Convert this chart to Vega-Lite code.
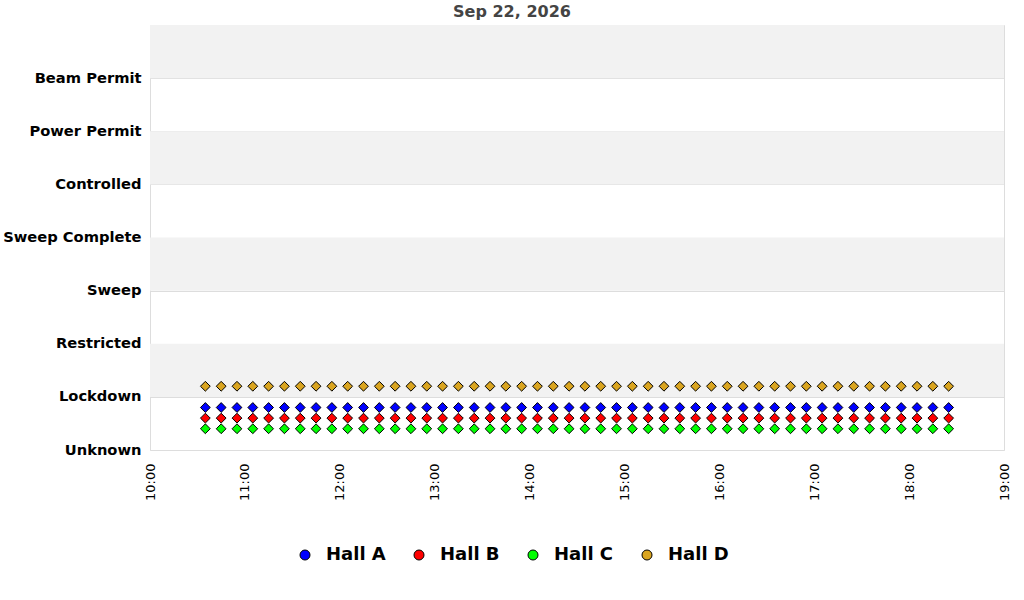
{
  "$schema": "https://vega.github.io/schema/vega-lite/v6.json",
  "width": 854,
  "height": 425,
  "autosize": "none",
  "padding": {"left": 150, "top": 25, "right": 20, "bottom": 150},
  "background": "white",
  "config": {
    "font": "DejaVu Sans",
    "view": {"stroke": "#dddddd"}
  },
  "title": {
    "text": "Sep 22, 2026",
    "font": "DejaVu Sans",
    "fontSize": 16,
    "fontWeight": "bold",
    "color": "#444444",
    "anchor": "middle",
    "dx": -65,
    "offset": 5
  },
  "layer": [
    {
      "data": {"values": [
        {"lo": 1, "hi": 2}, {"lo": 3, "hi": 4}, {"lo": 5, "hi": 6}, {"lo": 7, "hi": 8}
      ]},
      "mark": {"type": "rect", "fill": "#f2f2f2"},
      "encoding": {
        "y": {"field": "lo", "type": "quantitative", "scale": {"domain": [0, 8]}},
        "y2": {"field": "hi"}
      }
    },
    {
      "data": {
        "values": [
          {"t": "2026-09-22T10:35", "hall": "Hall A", "v": 0.8},
          {"t": "2026-09-22T10:45", "hall": "Hall A", "v": 0.8},
          {"t": "2026-09-22T10:55", "hall": "Hall A", "v": 0.8},
          {"t": "2026-09-22T11:05", "hall": "Hall A", "v": 0.8},
          {"t": "2026-09-22T11:15", "hall": "Hall A", "v": 0.8},
          {"t": "2026-09-22T11:25", "hall": "Hall A", "v": 0.8},
          {"t": "2026-09-22T11:35", "hall": "Hall A", "v": 0.8},
          {"t": "2026-09-22T11:45", "hall": "Hall A", "v": 0.8},
          {"t": "2026-09-22T11:55", "hall": "Hall A", "v": 0.8},
          {"t": "2026-09-22T12:05", "hall": "Hall A", "v": 0.8},
          {"t": "2026-09-22T12:15", "hall": "Hall A", "v": 0.8},
          {"t": "2026-09-22T12:25", "hall": "Hall A", "v": 0.8},
          {"t": "2026-09-22T12:35", "hall": "Hall A", "v": 0.8},
          {"t": "2026-09-22T12:45", "hall": "Hall A", "v": 0.8},
          {"t": "2026-09-22T12:55", "hall": "Hall A", "v": 0.8},
          {"t": "2026-09-22T13:05", "hall": "Hall A", "v": 0.8},
          {"t": "2026-09-22T13:15", "hall": "Hall A", "v": 0.8},
          {"t": "2026-09-22T13:25", "hall": "Hall A", "v": 0.8},
          {"t": "2026-09-22T13:35", "hall": "Hall A", "v": 0.8},
          {"t": "2026-09-22T13:45", "hall": "Hall A", "v": 0.8},
          {"t": "2026-09-22T13:55", "hall": "Hall A", "v": 0.8},
          {"t": "2026-09-22T14:05", "hall": "Hall A", "v": 0.8},
          {"t": "2026-09-22T14:15", "hall": "Hall A", "v": 0.8},
          {"t": "2026-09-22T14:25", "hall": "Hall A", "v": 0.8},
          {"t": "2026-09-22T14:35", "hall": "Hall A", "v": 0.8},
          {"t": "2026-09-22T14:45", "hall": "Hall A", "v": 0.8},
          {"t": "2026-09-22T14:55", "hall": "Hall A", "v": 0.8},
          {"t": "2026-09-22T15:05", "hall": "Hall A", "v": 0.8},
          {"t": "2026-09-22T15:15", "hall": "Hall A", "v": 0.8},
          {"t": "2026-09-22T15:25", "hall": "Hall A", "v": 0.8},
          {"t": "2026-09-22T15:35", "hall": "Hall A", "v": 0.8},
          {"t": "2026-09-22T15:45", "hall": "Hall A", "v": 0.8},
          {"t": "2026-09-22T15:55", "hall": "Hall A", "v": 0.8},
          {"t": "2026-09-22T16:05", "hall": "Hall A", "v": 0.8},
          {"t": "2026-09-22T16:15", "hall": "Hall A", "v": 0.8},
          {"t": "2026-09-22T16:25", "hall": "Hall A", "v": 0.8},
          {"t": "2026-09-22T16:35", "hall": "Hall A", "v": 0.8},
          {"t": "2026-09-22T16:45", "hall": "Hall A", "v": 0.8},
          {"t": "2026-09-22T16:55", "hall": "Hall A", "v": 0.8},
          {"t": "2026-09-22T17:05", "hall": "Hall A", "v": 0.8},
          {"t": "2026-09-22T17:15", "hall": "Hall A", "v": 0.8},
          {"t": "2026-09-22T17:25", "hall": "Hall A", "v": 0.8},
          {"t": "2026-09-22T17:35", "hall": "Hall A", "v": 0.8},
          {"t": "2026-09-22T17:45", "hall": "Hall A", "v": 0.8},
          {"t": "2026-09-22T17:55", "hall": "Hall A", "v": 0.8},
          {"t": "2026-09-22T18:05", "hall": "Hall A", "v": 0.8},
          {"t": "2026-09-22T18:15", "hall": "Hall A", "v": 0.8},
          {"t": "2026-09-22T18:25", "hall": "Hall A", "v": 0.8},
          {"t": "2026-09-22T10:35", "hall": "Hall B", "v": 0.6},
          {"t": "2026-09-22T10:45", "hall": "Hall B", "v": 0.6},
          {"t": "2026-09-22T10:55", "hall": "Hall B", "v": 0.6},
          {"t": "2026-09-22T11:05", "hall": "Hall B", "v": 0.6},
          {"t": "2026-09-22T11:15", "hall": "Hall B", "v": 0.6},
          {"t": "2026-09-22T11:25", "hall": "Hall B", "v": 0.6},
          {"t": "2026-09-22T11:35", "hall": "Hall B", "v": 0.6},
          {"t": "2026-09-22T11:45", "hall": "Hall B", "v": 0.6},
          {"t": "2026-09-22T11:55", "hall": "Hall B", "v": 0.6},
          {"t": "2026-09-22T12:05", "hall": "Hall B", "v": 0.6},
          {"t": "2026-09-22T12:15", "hall": "Hall B", "v": 0.6},
          {"t": "2026-09-22T12:25", "hall": "Hall B", "v": 0.6},
          {"t": "2026-09-22T12:35", "hall": "Hall B", "v": 0.6},
          {"t": "2026-09-22T12:45", "hall": "Hall B", "v": 0.6},
          {"t": "2026-09-22T12:55", "hall": "Hall B", "v": 0.6},
          {"t": "2026-09-22T13:05", "hall": "Hall B", "v": 0.6},
          {"t": "2026-09-22T13:15", "hall": "Hall B", "v": 0.6},
          {"t": "2026-09-22T13:25", "hall": "Hall B", "v": 0.6},
          {"t": "2026-09-22T13:35", "hall": "Hall B", "v": 0.6},
          {"t": "2026-09-22T13:45", "hall": "Hall B", "v": 0.6},
          {"t": "2026-09-22T13:55", "hall": "Hall B", "v": 0.6},
          {"t": "2026-09-22T14:05", "hall": "Hall B", "v": 0.6},
          {"t": "2026-09-22T14:15", "hall": "Hall B", "v": 0.6},
          {"t": "2026-09-22T14:25", "hall": "Hall B", "v": 0.6},
          {"t": "2026-09-22T14:35", "hall": "Hall B", "v": 0.6},
          {"t": "2026-09-22T14:45", "hall": "Hall B", "v": 0.6},
          {"t": "2026-09-22T14:55", "hall": "Hall B", "v": 0.6},
          {"t": "2026-09-22T15:05", "hall": "Hall B", "v": 0.6},
          {"t": "2026-09-22T15:15", "hall": "Hall B", "v": 0.6},
          {"t": "2026-09-22T15:25", "hall": "Hall B", "v": 0.6},
          {"t": "2026-09-22T15:35", "hall": "Hall B", "v": 0.6},
          {"t": "2026-09-22T15:45", "hall": "Hall B", "v": 0.6},
          {"t": "2026-09-22T15:55", "hall": "Hall B", "v": 0.6},
          {"t": "2026-09-22T16:05", "hall": "Hall B", "v": 0.6},
          {"t": "2026-09-22T16:15", "hall": "Hall B", "v": 0.6},
          {"t": "2026-09-22T16:25", "hall": "Hall B", "v": 0.6},
          {"t": "2026-09-22T16:35", "hall": "Hall B", "v": 0.6},
          {"t": "2026-09-22T16:45", "hall": "Hall B", "v": 0.6},
          {"t": "2026-09-22T16:55", "hall": "Hall B", "v": 0.6},
          {"t": "2026-09-22T17:05", "hall": "Hall B", "v": 0.6},
          {"t": "2026-09-22T17:15", "hall": "Hall B", "v": 0.6},
          {"t": "2026-09-22T17:25", "hall": "Hall B", "v": 0.6},
          {"t": "2026-09-22T17:35", "hall": "Hall B", "v": 0.6},
          {"t": "2026-09-22T17:45", "hall": "Hall B", "v": 0.6},
          {"t": "2026-09-22T17:55", "hall": "Hall B", "v": 0.6},
          {"t": "2026-09-22T18:05", "hall": "Hall B", "v": 0.6},
          {"t": "2026-09-22T18:15", "hall": "Hall B", "v": 0.6},
          {"t": "2026-09-22T18:25", "hall": "Hall B", "v": 0.6},
          {"t": "2026-09-22T10:35", "hall": "Hall C", "v": 0.4},
          {"t": "2026-09-22T10:45", "hall": "Hall C", "v": 0.4},
          {"t": "2026-09-22T10:55", "hall": "Hall C", "v": 0.4},
          {"t": "2026-09-22T11:05", "hall": "Hall C", "v": 0.4},
          {"t": "2026-09-22T11:15", "hall": "Hall C", "v": 0.4},
          {"t": "2026-09-22T11:25", "hall": "Hall C", "v": 0.4},
          {"t": "2026-09-22T11:35", "hall": "Hall C", "v": 0.4},
          {"t": "2026-09-22T11:45", "hall": "Hall C", "v": 0.4},
          {"t": "2026-09-22T11:55", "hall": "Hall C", "v": 0.4},
          {"t": "2026-09-22T12:05", "hall": "Hall C", "v": 0.4},
          {"t": "2026-09-22T12:15", "hall": "Hall C", "v": 0.4},
          {"t": "2026-09-22T12:25", "hall": "Hall C", "v": 0.4},
          {"t": "2026-09-22T12:35", "hall": "Hall C", "v": 0.4},
          {"t": "2026-09-22T12:45", "hall": "Hall C", "v": 0.4},
          {"t": "2026-09-22T12:55", "hall": "Hall C", "v": 0.4},
          {"t": "2026-09-22T13:05", "hall": "Hall C", "v": 0.4},
          {"t": "2026-09-22T13:15", "hall": "Hall C", "v": 0.4},
          {"t": "2026-09-22T13:25", "hall": "Hall C", "v": 0.4},
          {"t": "2026-09-22T13:35", "hall": "Hall C", "v": 0.4},
          {"t": "2026-09-22T13:45", "hall": "Hall C", "v": 0.4},
          {"t": "2026-09-22T13:55", "hall": "Hall C", "v": 0.4},
          {"t": "2026-09-22T14:05", "hall": "Hall C", "v": 0.4},
          {"t": "2026-09-22T14:15", "hall": "Hall C", "v": 0.4},
          {"t": "2026-09-22T14:25", "hall": "Hall C", "v": 0.4},
          {"t": "2026-09-22T14:35", "hall": "Hall C", "v": 0.4},
          {"t": "2026-09-22T14:45", "hall": "Hall C", "v": 0.4},
          {"t": "2026-09-22T14:55", "hall": "Hall C", "v": 0.4},
          {"t": "2026-09-22T15:05", "hall": "Hall C", "v": 0.4},
          {"t": "2026-09-22T15:15", "hall": "Hall C", "v": 0.4},
          {"t": "2026-09-22T15:25", "hall": "Hall C", "v": 0.4},
          {"t": "2026-09-22T15:35", "hall": "Hall C", "v": 0.4},
          {"t": "2026-09-22T15:45", "hall": "Hall C", "v": 0.4},
          {"t": "2026-09-22T15:55", "hall": "Hall C", "v": 0.4},
          {"t": "2026-09-22T16:05", "hall": "Hall C", "v": 0.4},
          {"t": "2026-09-22T16:15", "hall": "Hall C", "v": 0.4},
          {"t": "2026-09-22T16:25", "hall": "Hall C", "v": 0.4},
          {"t": "2026-09-22T16:35", "hall": "Hall C", "v": 0.4},
          {"t": "2026-09-22T16:45", "hall": "Hall C", "v": 0.4},
          {"t": "2026-09-22T16:55", "hall": "Hall C", "v": 0.4},
          {"t": "2026-09-22T17:05", "hall": "Hall C", "v": 0.4},
          {"t": "2026-09-22T17:15", "hall": "Hall C", "v": 0.4},
          {"t": "2026-09-22T17:25", "hall": "Hall C", "v": 0.4},
          {"t": "2026-09-22T17:35", "hall": "Hall C", "v": 0.4},
          {"t": "2026-09-22T17:45", "hall": "Hall C", "v": 0.4},
          {"t": "2026-09-22T17:55", "hall": "Hall C", "v": 0.4},
          {"t": "2026-09-22T18:05", "hall": "Hall C", "v": 0.4},
          {"t": "2026-09-22T18:15", "hall": "Hall C", "v": 0.4},
          {"t": "2026-09-22T18:25", "hall": "Hall C", "v": 0.4},
          {"t": "2026-09-22T10:35", "hall": "Hall D", "v": 1.2},
          {"t": "2026-09-22T10:45", "hall": "Hall D", "v": 1.2},
          {"t": "2026-09-22T10:55", "hall": "Hall D", "v": 1.2},
          {"t": "2026-09-22T11:05", "hall": "Hall D", "v": 1.2},
          {"t": "2026-09-22T11:15", "hall": "Hall D", "v": 1.2},
          {"t": "2026-09-22T11:25", "hall": "Hall D", "v": 1.2},
          {"t": "2026-09-22T11:35", "hall": "Hall D", "v": 1.2},
          {"t": "2026-09-22T11:45", "hall": "Hall D", "v": 1.2},
          {"t": "2026-09-22T11:55", "hall": "Hall D", "v": 1.2},
          {"t": "2026-09-22T12:05", "hall": "Hall D", "v": 1.2},
          {"t": "2026-09-22T12:15", "hall": "Hall D", "v": 1.2},
          {"t": "2026-09-22T12:25", "hall": "Hall D", "v": 1.2},
          {"t": "2026-09-22T12:35", "hall": "Hall D", "v": 1.2},
          {"t": "2026-09-22T12:45", "hall": "Hall D", "v": 1.2},
          {"t": "2026-09-22T12:55", "hall": "Hall D", "v": 1.2},
          {"t": "2026-09-22T13:05", "hall": "Hall D", "v": 1.2},
          {"t": "2026-09-22T13:15", "hall": "Hall D", "v": 1.2},
          {"t": "2026-09-22T13:25", "hall": "Hall D", "v": 1.2},
          {"t": "2026-09-22T13:35", "hall": "Hall D", "v": 1.2},
          {"t": "2026-09-22T13:45", "hall": "Hall D", "v": 1.2},
          {"t": "2026-09-22T13:55", "hall": "Hall D", "v": 1.2},
          {"t": "2026-09-22T14:05", "hall": "Hall D", "v": 1.2},
          {"t": "2026-09-22T14:15", "hall": "Hall D", "v": 1.2},
          {"t": "2026-09-22T14:25", "hall": "Hall D", "v": 1.2},
          {"t": "2026-09-22T14:35", "hall": "Hall D", "v": 1.2},
          {"t": "2026-09-22T14:45", "hall": "Hall D", "v": 1.2},
          {"t": "2026-09-22T14:55", "hall": "Hall D", "v": 1.2},
          {"t": "2026-09-22T15:05", "hall": "Hall D", "v": 1.2},
          {"t": "2026-09-22T15:15", "hall": "Hall D", "v": 1.2},
          {"t": "2026-09-22T15:25", "hall": "Hall D", "v": 1.2},
          {"t": "2026-09-22T15:35", "hall": "Hall D", "v": 1.2},
          {"t": "2026-09-22T15:45", "hall": "Hall D", "v": 1.2},
          {"t": "2026-09-22T15:55", "hall": "Hall D", "v": 1.2},
          {"t": "2026-09-22T16:05", "hall": "Hall D", "v": 1.2},
          {"t": "2026-09-22T16:15", "hall": "Hall D", "v": 1.2},
          {"t": "2026-09-22T16:25", "hall": "Hall D", "v": 1.2},
          {"t": "2026-09-22T16:35", "hall": "Hall D", "v": 1.2},
          {"t": "2026-09-22T16:45", "hall": "Hall D", "v": 1.2},
          {"t": "2026-09-22T16:55", "hall": "Hall D", "v": 1.2},
          {"t": "2026-09-22T17:05", "hall": "Hall D", "v": 1.2},
          {"t": "2026-09-22T17:15", "hall": "Hall D", "v": 1.2},
          {"t": "2026-09-22T17:25", "hall": "Hall D", "v": 1.2},
          {"t": "2026-09-22T17:35", "hall": "Hall D", "v": 1.2},
          {"t": "2026-09-22T17:45", "hall": "Hall D", "v": 1.2},
          {"t": "2026-09-22T17:55", "hall": "Hall D", "v": 1.2},
          {"t": "2026-09-22T18:05", "hall": "Hall D", "v": 1.2},
          {"t": "2026-09-22T18:15", "hall": "Hall D", "v": 1.2},
          {"t": "2026-09-22T18:25", "hall": "Hall D", "v": 1.2}
        ],
        "format": {"parse": {"t": "date"}}
      },
      "mark": {"type": "point", "shape": "diamond", "filled": true, "size": 96, "stroke": "black", "strokeWidth": 1, "strokeJoin": "round", "opacity": 1},
      "encoding": {
        "x": {
          "field": "t",
          "type": "temporal",
          "scale": {"domain": [
            {"year": 2026, "month": 9, "date": 22, "hours": 10},
            {"year": 2026, "month": 9, "date": 22, "hours": 19}
          ]},
          "axis": {
            "title": null,
            "format": "%H:%M",
            "tickCount": "hour",
            "labelAngle": -90,
            "labelAlign": "right",
            "labelBaseline": "middle",
            "labelFont": "DejaVu Sans",
            "labelFontSize": 13,
            "labelColor": "black",
            "labelPadding": 13,
            "ticks": false,
            "domain": false,
            "grid": false,
            "labelFlush": false,
            "labelOverlap": false
          }
        },
        "y": {
          "field": "v",
          "type": "quantitative",
          "scale": {"domain": [0, 8], "nice": false},
          "axis": {
            "title": null,
            "values": [0, 1, 2, 3, 4, 5, 6, 7],
            "labelExpr": "['Unknown','Lockdown','Restricted','Sweep','Sweep Complete','Controlled','Power Permit','Beam Permit'][datum.value]",
            "labelFont": "DejaVu Sans",
            "labelFontWeight": "bold",
            "labelFontSize": 14.7,
            "labelColor": "black",
            "labelPadding": 9,
            "ticks": false,
            "domain": false,
            "grid": true,
            "gridColor": "#dddddd",
            "labelFlush": false,
            "labelOverlap": false
          }
        },
        "color": {
          "field": "hall",
          "type": "nominal",
          "scale": {
            "domain": ["Hall A", "Hall B", "Hall C", "Hall D"],
            "range": ["#0000ff", "#ff0000", "#00ff00", "#daa520"]
          },
          "legend": {
            "title": null,
            "orient": "none",
            "direction": "horizontal",
            "legendX": 146,
            "legendY": 521,
            "symbolType": "circle",
            "symbolSize": 100,
            "symbolStrokeColor": "black",
            "symbolStrokeWidth": 1,
            "symbolOpacity": 1,
            "labelFont": "DejaVu Sans",
            "labelFontWeight": "bold",
            "labelFontSize": 18,
            "labelColor": "black",
            "labelOffset": 12,
            "columnPadding": 24
          }
        }
      }
    }
  ]
}
